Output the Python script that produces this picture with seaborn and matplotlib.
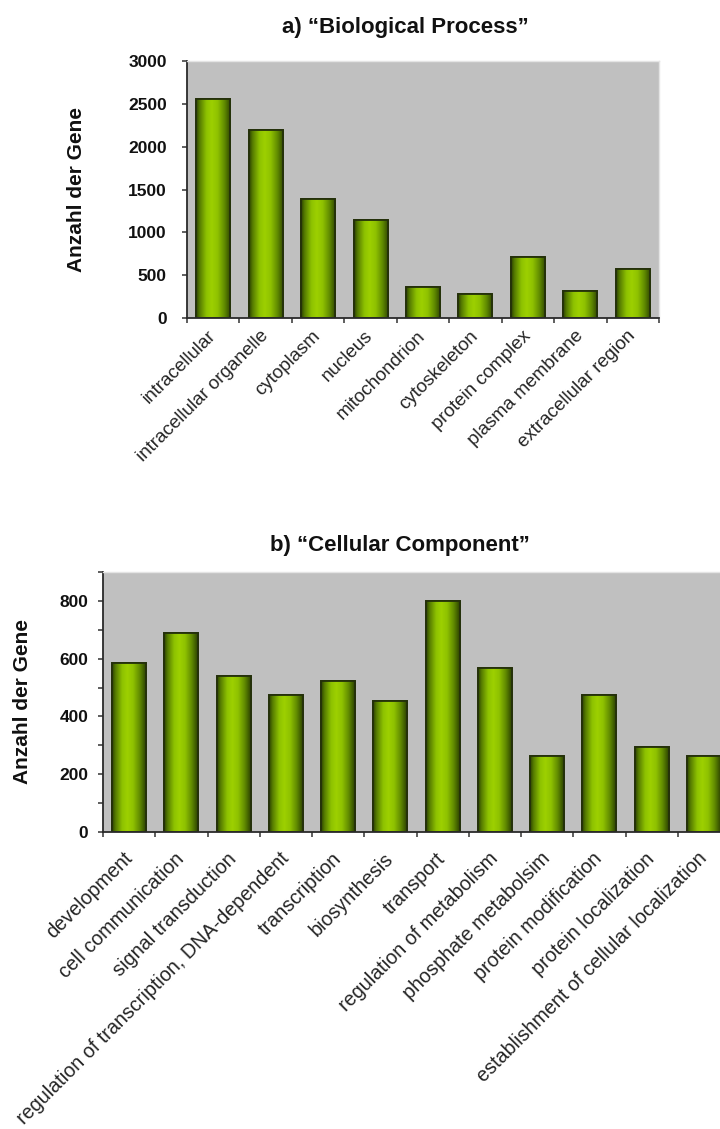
import numpy as np
import pandas as pd
import matplotlib
matplotlib.use("Agg")
import matplotlib.pyplot as plt
from matplotlib.colors import LinearSegmentedColormap
from matplotlib.patches import Rectangle
import seaborn as sns

# ---- data -------------------------------------------------------------
bp_terms = ["intracellular", "intracellular organelle", "cytoplasm", "nucleus",
            "mitochondrion", "cytoskeleton", "protein complex",
            "plasma membrane", "extracellular region"]
bp_counts = [2555, 2200, 1385, 1145, 360, 275, 715, 315, 575]

cc_terms = ["development", "cell communication", "signal transduction",
            "regulation of transcription, DNA-dependent", "transcription",
            "biosynthesis", "transport", "regulation of metabolism",
            "phosphate metabolsim", "protein modification",
            "protein localization", "establishment of cellular localization"]
cc_counts = [585, 690, 540, 475, 522, 452, 800, 567, 262, 475, 295, 262]

bp_title = "a) \u201cBiological Process\u201d"
cc_title = "b) \u201cCellular Component\u201d"
y_label = "Anzahl der Gene"

# ---- style ------------------------------------------------------------
sns.set_theme(style="ticks")
plt.rcParams["font.family"] = ["Liberation Sans", "DejaVu Sans"]

PLOT_BG = "#c0c0c0"
BAR_EDGE = "#24300a"
cyl = LinearSegmentedColormap.from_list(
    "cylinder",
    [(0.00, "#2a3f00"), (0.10, "#557a00"), (0.30, "#8ec200"),
     (0.45, "#9dd000"), (0.62, "#8fc200"), (0.82, "#608a00"),
     (1.00, "#2c4100")])
grad = np.linspace(0, 1, 256).reshape(1, -1)


def shade_bars(ax):
    """Paint each bar with a horizontal cylinder gradient and redraw its edge."""
    xlim, ylim = ax.get_xlim(), ax.get_ylim()
    for p in list(ax.patches):
        x0, y0 = p.get_x(), p.get_y()
        w, h = p.get_width(), p.get_height()
        im = ax.imshow(grad, extent=[x0, x0 + w, y0, y0 + h], aspect="auto",
                       cmap=cyl, interpolation="bilinear",
                       zorder=p.get_zorder() + 0.1)
        im.set_clip_path(p)
        ax.add_patch(Rectangle((x0, y0), w, h, fill=False, edgecolor=BAR_EDGE,
                               linewidth=1.3, zorder=p.get_zorder() + 0.2))
    ax.set_xlim(xlim)
    ax.set_ylim(ylim)


def style_axes(ax, terms, ymax, major_step, minor=None, label_x=-0.2,
               xlabel_size=13.5, xlabel_pad=11, ylabel_pad=8):
    n = len(terms)
    ax.set_facecolor(PLOT_BG)
    ax.set_xlim(-0.5, n - 0.5)
    ax.set_ylim(0, ymax)
    ax.set_yticks(np.arange(0, ymax + 1, major_step))
    if minor is not None:
        ax.set_yticks(minor, minor=True)
    ax.set_xticks(np.arange(n))
    ax.set_xticks(np.arange(n + 1) - 0.5, minor=True)
    ax.set_xticklabels(terms, rotation=45, ha="right", va="center",
                       rotation_mode="anchor", fontsize=xlabel_size,
                       color="#252525")
    ax.tick_params(axis="x", which="major", length=0, pad=xlabel_pad)
    ax.tick_params(axis="x", which="minor", length=3.6, width=1.1,
                   color="#333333", direction="out")
    ax.tick_params(axis="y", which="both", length=3.6, width=1.1,
                   color="#333333", direction="out", pad=ylabel_pad)
    for t in ax.get_yticklabels():
        t.set_fontweight("bold")
        t.set_fontsize(12.5)
        t.set_color("#111111")
    for s in ("left", "bottom"):
        ax.spines[s].set_color("#2a2a2a")
        ax.spines[s].set_linewidth(1.3)
    for s in ("top", "right"):
        ax.spines[s].set_color("#e4e4e4")
        ax.spines[s].set_linewidth(1.0)
    ax.set_xlabel("")
    ax.set_ylabel(y_label, fontsize=15, fontweight="bold", color="#111111",
                  va="center", ha="center")
    ax.yaxis.set_label_coords(label_x, 0.5)


W, H = 720, 1129
fig = plt.figure(figsize=(W / 100, H / 100), dpi=100)
fig.patch.set_facecolor("white")

# ---- panel a ----------------------------------------------------------
ax1 = fig.add_axes([187 / W, 1 - 318 / H, 472 / W, 257 / H])
bp = pd.DataFrame({"term": bp_terms, "count": bp_counts})
sns.barplot(data=bp, x="term", y="count", ax=ax1, color="#8fc200",
            width=0.65, edgecolor=BAR_EDGE, linewidth=1.3, saturation=1)
style_axes(ax1, bp_terms, 3000, 500, label_x=(76 - 187) / 472,
           xlabel_size=13.5, xlabel_pad=11, ylabel_pad=11)
shade_bars(ax1)
fig.text(405 / W, 1 - 28 / H, bp_title, ha="center", va="center",
         fontsize=16, fontweight="bold", color="#111111")

# ---- panel b ----------------------------------------------------------
ax2 = fig.add_axes([103 / W, 1 - 832 / H, 627 / W, 260 / H])
cc = pd.DataFrame({"term": cc_terms, "count": cc_counts})
sns.barplot(data=cc, x="term", y="count", ax=ax2, color="#8fc200",
            width=0.65, edgecolor=BAR_EDGE, linewidth=1.3, saturation=1)
style_axes(ax2, cc_terms, 900, 200, minor=[100, 300, 500, 700, 900],
           label_x=(23 - 103) / 627, xlabel_size=14.2, xlabel_pad=17,
           ylabel_pad=7)
ax2.set_yticks(np.arange(0, 801, 200))
shade_bars(ax2)
fig.text(400 / W, 1 - 545 / H, cc_title, ha="center", va="center",
         fontsize=16, fontweight="bold", color="#111111")

fig.savefig("out.png", dpi=100, facecolor="white")
